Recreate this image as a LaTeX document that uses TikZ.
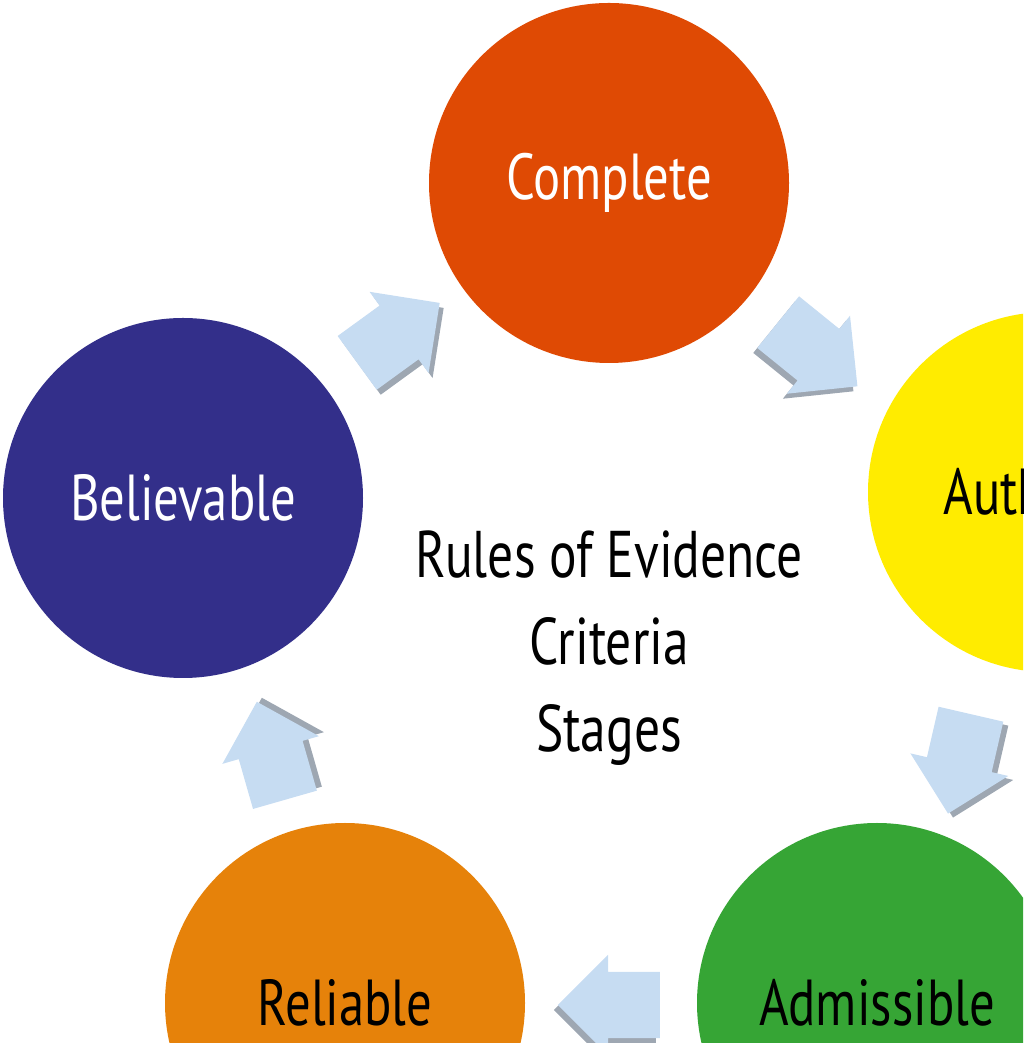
\documentclass[tikz,border=0pt]{standalone}
\usepackage{fontspec}
\setmainfont[FakeStretch=0.78]{PT Sans}
\usetikzlibrary{shapes.arrows, positioning}

\definecolor{completecol}{RGB}{223,74,4}
\definecolor{believecol}{RGB}{51,47,138}
\definecolor{authcol}{RGB}{255,236,0}
\definecolor{admisscol}{RGB}{54,165,53}
\definecolor{reliablecol}{RGB}{230,130,10}
\definecolor{arrowblue}{RGB}{198,220,242}
\definecolor{arrowgray}{RGB}{158,167,178}

\begin{document}
\begin{tikzpicture}[
  x=1pt, y=1pt,
  stage/.style={circle, minimum size=360pt, inner sep=0pt, font=\fontsize{65}{78}\selectfont},
  flow/.style={single arrow, anchor=tail, minimum height=102pt, minimum width=100pt,
    inner xsep=0pt, inner ysep=33pt,
    single arrow head extend=17pt, single arrow tip angle=90},
  flowtop/.style={flow, fill=arrowblue},
  flowshade/.style={flow, fill=arrowgray},
  center/.style={align=center, font=\fontsize{66}{87}\selectfont},
]
\useasboundingbox (0,0) rectangle (1023,1043);
\clip (0,0) rectangle (1023,1043);

% Stages
\node[stage, fill=completecol, text=white] (complete) at (609,860) {Complete};
\node[stage, fill=authcol] (authentic) at (1048,551) {Authentic};
\node[stage, fill=admisscol] (admissible) at (877,40) {Admissible};
\node[stage, fill=reliablecol] (reliable) at (345,40) {Reliable};
\node[stage, fill=believecol, text=white] (believable) at (183,545) {Believable};

% Centre text
\node[center] (rules) at (609,395) {Rules of Evidence\\Criteria\\Stages};

% Arrows (gray edge first, blue on top)
\node[flowshade, rotate=36] (a1s) at (361,675) {};
\node[flowtop, rotate=36] (a1) at (357,680) {};
\node[flowshade, rotate=-39] (a2s) at (774,716) {};
\node[flowtop, rotate=-39] (a2) at (778,721) {};
\node[flowshade, rotate=-103] (a3s) at (976,325) {};
\node[flowtop, rotate=-103] (a3) at (971,329) {};
\node[flowshade, rotate=180] (a4s) at (656,33) {};
\node[flowtop, rotate=180] (a4) at (660,38) {};
\node[flowshade, rotate=106] (a5s) at (290,247) {};
\node[flowtop, rotate=106] (a5) at (285,243) {};

\end{tikzpicture}
\end{document}
